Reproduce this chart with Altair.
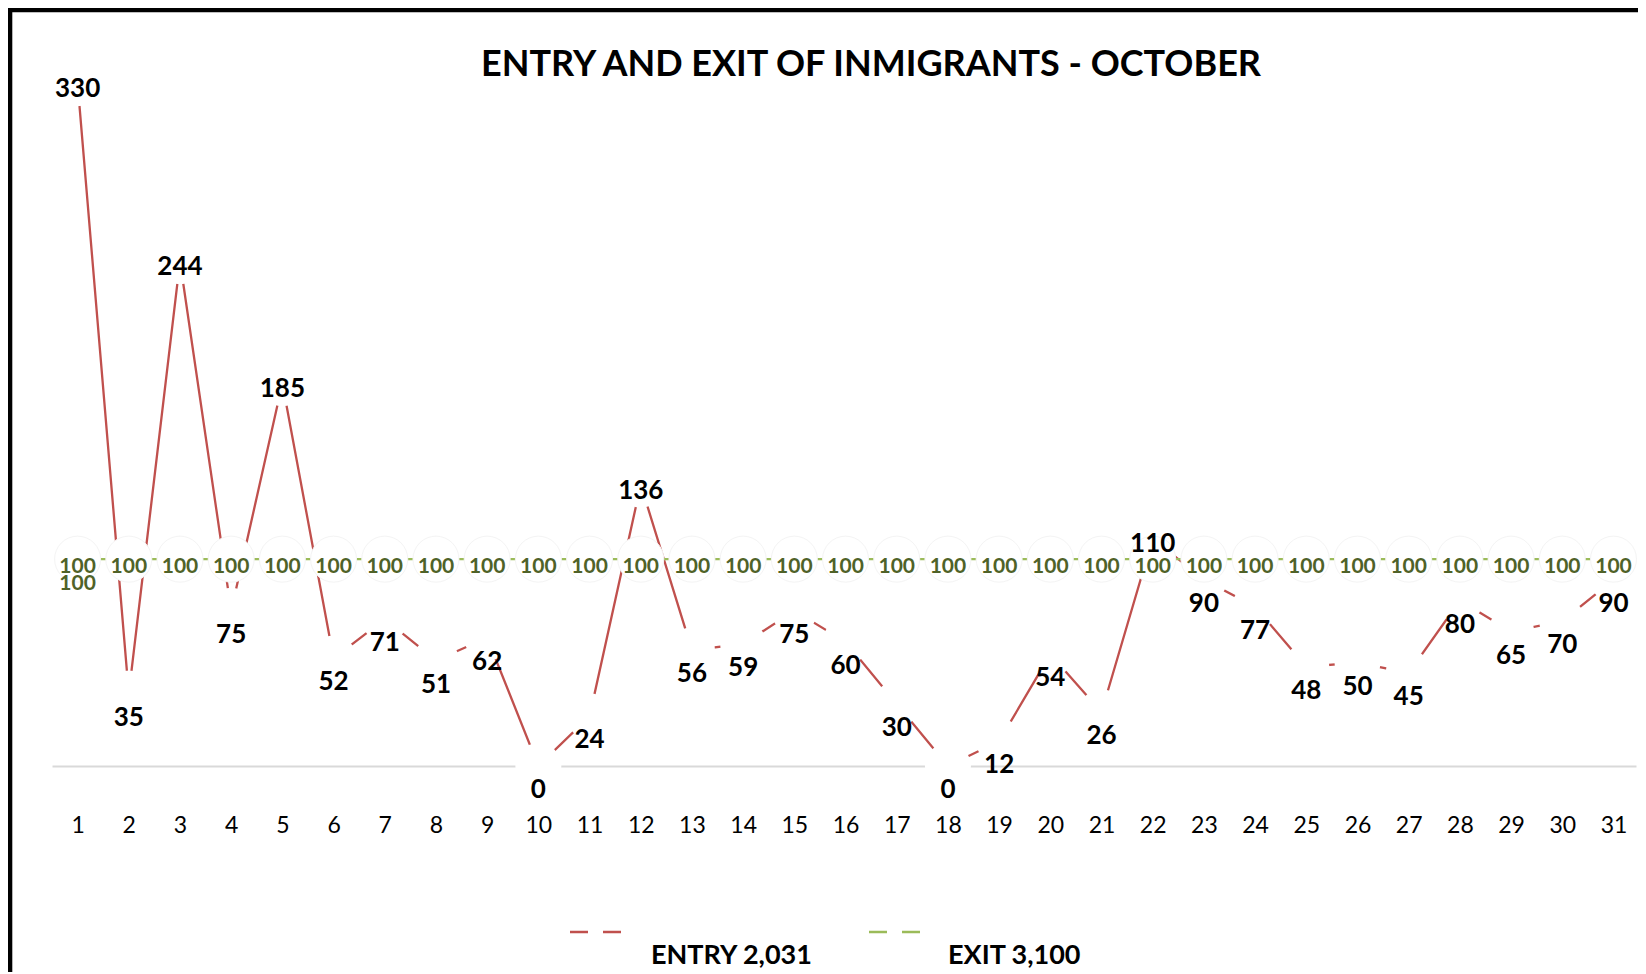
import altair as alt
import pandas as pd

# ---- data ----
days = list(range(1, 32))
entry = [330, 35, 244, 75, 185, 52, 71, 51, 62, 0, 24, 136, 56, 59, 75, 60,
         30, 0, 12, 54, 26, 110, 90, 77, 48, 50, 45, 80, 65, 70, 90]
exit_ = [100, 100, 100, 100, 100, 100, 100, 100, 100, 100, 100, 100, 100, 100,
         100, 100, 100, 100, 100, 100, 100, 100, 100, 100, 100, 100, 100, 100,
         100, 100, 100]
series_names = ["ENTRY 2,031", "EXIT 3,100"]
title_text = ["ENTRY AND EXIT OF INMIGRANTS - OCTOBER"]

# ---- styles ----
RED = "#c0504d"
GREEN = "#9bbb59"
OLIVE = "#4f6228"
FONT = "Lato"

df = pd.DataFrame({
    "day": days * 2,
    "value": entry + exit_,
    "series": [series_names[0]] * len(days) + [series_names[1]] * len(days),
})
df_entry = df[df.series == series_names[0]]
df_exit = df[df.series == series_names[1]]

W, H = 1584, 724
xscale = alt.Scale(domain=[0.5, 31.44], nice=False, zero=False)
yscale = alt.Scale(domain=[0, 350], nice=False)

X = alt.X("day:Q", scale=xscale,
          axis=alt.Axis(values=days, format="d", title=None, grid=False,
                        ticks=False, tickSize=0, labelFont=FONT, labelFontSize=23,
                        labelColor="#000000", labelBaseline="middle",
                        labelPadding=59, domainColor="#d9d9d9", domainWidth=2,
                        labelFlush=False))
Y = alt.Y("value:Q", scale=yscale, axis=None)

base = alt.Chart(df).encode(x=X, y=Y)

lines = base.mark_line(strokeWidth=2.3).encode(
    color=alt.Color("series:N", scale=alt.Scale(domain=series_names, range=[RED, GREEN]),
                    legend=None),
    detail="series:N",
)

circles_entry = alt.Chart(df_entry).mark_point(
    shape="circle", filled=True, fill="white", opacity=1, size=2116,
    stroke="white", strokeWidth=0).encode(x=X, y=Y)
circles_exit = alt.Chart(df_exit).mark_point(
    shape="circle", filled=True, fill="white", opacity=1, size=2116,
    stroke="#f4f4f4", strokeWidth=1, strokeOpacity=1).encode(x=X, y=Y)

lab_hi = alt.Chart(df_entry).transform_filter("datum.value > 100").mark_text(
    font=FONT, fontSize=26, fontWeight="bold", color="black",
    baseline="middle", dy=6).encode(x=X, y=Y, text="value:Q")
lab_lo = alt.Chart(df_entry).transform_filter("datum.value <= 100").mark_text(
    font=FONT, fontSize=26, fontWeight="bold", color="black",
    baseline="middle", dy=24).encode(x=X, y=Y, text="value:Q")
lab_exit = alt.Chart(df_exit).mark_text(
    font=FONT, fontSize=21, fontWeight="bold", color=OLIVE,
    baseline="middle", dy=8).encode(x=X, y=Y, text="value:Q")
lab_exit_extra = alt.Chart(df_exit).transform_filter("datum.day == 1").mark_text(
    font=FONT, fontSize=21, fontWeight="bold", color=OLIVE,
    baseline="middle", dy=25).encode(x=X, y=Y, text="value:Q")

title = alt.Chart(pd.DataFrame({"t": title_text})).mark_text(
    font=FONT, fontSize=36, fontWeight="bold", color="black",
    align="center", baseline="middle").encode(
    x=alt.value(819), y=alt.value(23), text="t:N")

one = pd.DataFrame({"k": [0]})
border_left = alt.Chart(one).mark_rule(color="black", strokeWidth=5).encode(
    x=alt.value(-42.2), y=alt.value(-35.3), y2=alt.value(1000))
border_top = alt.Chart(one).mark_rule(color="black", strokeWidth=5.6).encode(
    x=alt.value(-44.7), x2=alt.value(1600), y=alt.value(-32.5))

# custom legend (line symbol broken by the white marker, label below-right)
leg_layers = []
leg_sym_x = [518, 817]
leg_txt_x = [599, 896]
for name, col, sx, tx in zip(series_names, [RED, GREEN], leg_sym_x, leg_txt_x):
    ldf = pd.DataFrame({"name": [name]})
    leg_layers.append(alt.Chart(ldf).mark_rule(color=col, strokeWidth=2.5,
                                               strokeDash=[18, 15]).encode(
        x=alt.value(sx), x2=alt.value(sx + 51), y=alt.value(890)))
    leg_layers.append(alt.Chart(ldf).mark_text(
        font=FONT, fontSize=27, fontWeight="bold", color="black",
        align="left", baseline="middle").encode(
        x=alt.value(tx), y=alt.value(914), text="name:N"))

chart = alt.layer(
    lines, circles_entry, circles_exit, lab_hi, lab_lo, lab_exit, lab_exit_extra,
    title, border_left, border_top, *leg_layers
).properties(
    width=W, height=H,
    background="white",
    autosize=alt.AutoSizeParams(type="none"),
    padding={"left": 44, "top": 34, "right": 2, "bottom": 206},
).configure_view(stroke=None, strokeWidth=0)

chart.save("out.html", embed_options={"renderer": "svg", "actions": False})
